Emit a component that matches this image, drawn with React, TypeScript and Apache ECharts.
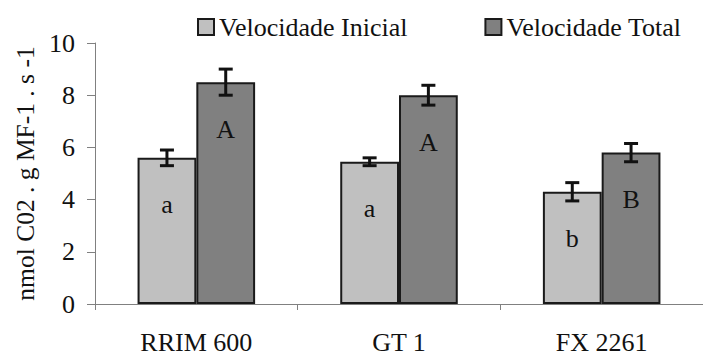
import React, { useEffect, useRef } from "react";
import * as echarts from "echarts";

const categories = ["RRIM 600", "GT 1", "FX 2261"];
const seriesNames = ["Velocidade Inicial", "Velocidade Total"];
const initialValues = [5.6, 5.45, 4.3];
const totalValues = [8.5, 8.0, 5.8];
const initialErr = [0.3, 0.15, 0.35];
const totalErr = [0.5, 0.38, 0.35];
const initialLetters = ["a", "a", "b"];
const totalLetters = ["A", "A", "B"];
const yTicks = [0, 2, 4, 6, 8, 10];

const FONT = "Liberation Serif";
const BAR_FRAC = 0.29;

function errorSeries(values: number[], errs: number[], sign: number) {
  return {
    type: "custom",
    z: 10,
    silent: true,
    data: values.map((v, i) => [i, v - errs[i], v + errs[i]]),
    renderItem: (params: any, api: any) => {
      const x = api.value(0);
      const lo = api.value(1);
      const hi = api.value(2);
      const band = api.size([1, 0])[0];
      const off = (sign * band * BAR_FRAC) / 2;
      const pHi = api.coord([x, hi]);
      const pLo = api.coord([x, lo]);
      const cx = pHi[0] + off;
      const hw = 7;
      const style = { stroke: "#111", lineWidth: 3 };
      return {
        type: "group",
        children: [
          { type: "line", shape: { x1: cx, y1: pHi[1], x2: cx, y2: pLo[1] }, style },
          { type: "line", shape: { x1: cx - hw, y1: pHi[1], x2: cx + hw, y2: pHi[1] }, style },
          { type: "line", shape: { x1: cx - hw, y1: pLo[1], x2: cx + hw, y2: pLo[1] }, style },
        ],
      };
    },
  };
}

export default function App() {
  const ref = useRef<HTMLDivElement>(null);
  useEffect(() => {
    if (!ref.current) return;
    const chart = echarts.init(ref.current, null, { renderer: "svg" });
    const labelStyle = (letters: string[]) => ({
      show: true,
      position: "insideTop",
      distance: 34,
      fontFamily: FONT,
      fontSize: 26,
      color: "#111",
      formatter: (p: any) => letters[p.dataIndex],
    });
    chart.setOption({
      animation: false,
      backgroundColor: "#fff",
      textStyle: { fontFamily: FONT },
      legend: {
        data: seriesNames,
        left: 192,
        top: 9,
        icon: "rect",
        itemWidth: 16,
        itemHeight: 16,
        itemGap: 77,
        textStyle: { fontFamily: FONT, fontSize: 26, color: "#111" },
      },
      grid: { left: 95, right: -4, top: 43, bottom: 48, containLabel: false },
      xAxis: {
        type: "category",
        data: categories,
        axisLine: { lineStyle: { color: "#808080", width: 1 } },
        axisTick: { show: true, length: 6, lineStyle: { color: "#808080" } },
        axisLabel: { fontFamily: FONT, fontSize: 26, color: "#111", margin: 25 },
      },
      yAxis: {
        type: "value",
        min: 0,
        max: 10,
        interval: 2,
        name: "nmol C02 . g MF-1 . s -1",
        nameLocation: "middle",
        nameGap: 55,
        nameTextStyle: { fontFamily: FONT, fontSize: 25.5, color: "#111" },
        splitLine: { show: false },
        axisLine: { show: true, lineStyle: { color: "#808080", width: 1 } },
        axisTick: { show: true, length: 8, lineStyle: { color: "#808080" } },
        axisLabel: {
          fontFamily: FONT,
          fontSize: 26,
          color: "#111",
          margin: 20,
          formatter: (v: number) => (yTicks.includes(v) ? String(v) : ""),
        },
      },
      series: [
        {
          name: seriesNames[0],
          type: "bar",
          data: initialValues,
          barWidth: BAR_FRAC * 100 + "%",
          barGap: "0%",
          itemStyle: { color: "#c0c0c0", borderColor: "#1a1a1a", borderWidth: 2 },
          label: labelStyle(initialLetters),
        },
        {
          name: seriesNames[1],
          type: "bar",
          data: totalValues,
          barWidth: BAR_FRAC * 100 + "%",
          barGap: "0%",
          itemStyle: { color: "#808080", borderColor: "#1a1a1a", borderWidth: 2 },
          label: labelStyle(totalLetters),
        },
        errorSeries(initialValues, initialErr, -1),
        errorSeries(totalValues, totalErr, 1),
      ],
    });
    return () => chart.dispose();
  }, []);
  return (
    <div
      ref={ref}
      style={{ position: "fixed", left: 0, top: 0, width: 703, height: 355 }}
    />
  );
}
